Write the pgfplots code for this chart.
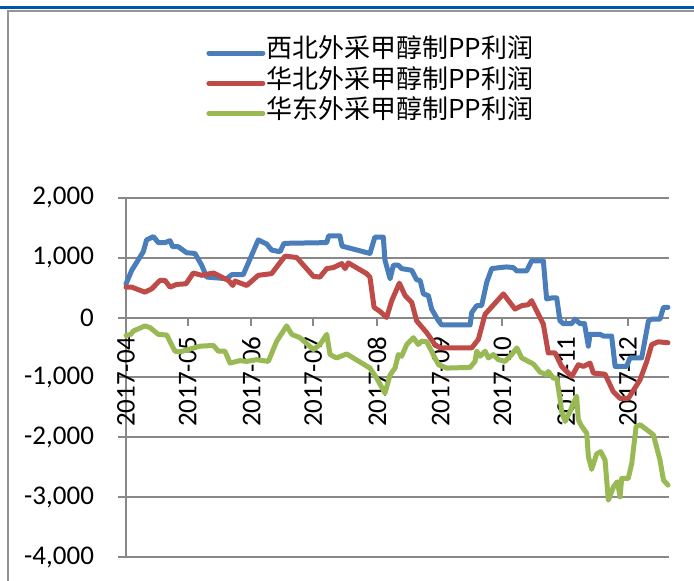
\documentclass[border=0pt]{standalone}
\usepackage{fontspec}
\setmainfont{Carlito}
\newfontfamily\cjk{Noto Sans CJK SC}
\usepackage{pgfplots}
\pgfplotsset{compat=1.18}
\definecolor{sxb}{HTML}{4A7EBB}
\definecolor{shb}{HTML}{BE4B48}
\definecolor{shd}{HTML}{98B954}
\definecolor{gridgray}{HTML}{888888}
\definecolor{topblue}{HTML}{0055A5}
\newcommand{\tickfont}{\fontsize{13.5pt}{15pt}\selectfont}
\newcommand{\legfont}{\fontsize{13pt}{15pt}\selectfont\cjk}

\begin{document}
\begin{tikzpicture}
% page frame: 694 x 581 px at 0.5pt per px
\path[use as bounding box] (0,0) rectangle (347pt,290.5pt);
\draw[topblue,line width=1.5pt] (0,286.75pt) -- (347pt,286.75pt);
\draw[gridgray!90,line width=1pt] (347pt,284.75pt) -- (4.15pt,284.75pt) -- (4.15pt,0);

\begin{axis}[
    at={(63pt,11.75pt)}, anchor=south west,
    scale only axis,
    width=271.5pt, height=180pt,
    xmin=0, xmax=264,
    ymin=-4000, ymax=2000,
    clip=false,
    axis x line=middle,
    axis y line=left,
    hide obscured x ticks=false,
    axis line style={gridgray,line width=1pt,-},
    ymajorgrids,
    grid style={gridgray,line width=1pt},
    tick align=outside,
    major tick length=4pt,
    tick style={gridgray,line width=1pt},
    ytick={-4000,-3000,-2000,-1000,0,1000,2000},
    xtick={0,30,61,91,122,153,183,214,244},
    xticklabels={2017-04,2017-05,2017-06,2017-07,2017-08,2017-09,2017-10,2017-11,2017-12},
    yticklabel style={font=\tickfont,xshift=-8.5pt},
    xticklabel style={font=\tickfont,rotate=90,anchor=east,xshift=-2pt},
    /pgf/number format/.cd, 1000 sep={,}, assume math mode=true,
    /pgfplots/.cd,
    legend cell align=left,
    legend style={at={(axis description cs:0.1473,1.4444)},anchor=north west,
        draw=none,fill=none,inner sep=0pt,row sep=0pt,column sep=0.5pt,
        nodes={inner sep=0pt,text height=10pt,text depth=5.15pt,font=\legfont}},
    legend image code/.code={\draw[#1,line cap=round] (0pt,0pt) -- (27pt,0pt);},
    every axis plot/.append style={line width=2.5pt,line join=round,line cap=round},
]
\addplot[sxb] coordinates {
(0,560) (2.8,787) (8.4,1096) (10,1293) (13.3,1349) (15.7,1248) (19,1248) (21.4,1281)
(22.7,1180) (25.4,1180) (29.5,1079) (33.5,1068) (36.8,871) (39.2,674) (49,646) (51.4,714)
(57,714) (64.3,1293) (68.4,1225) (70.8,1124) (74.9,1096) (76.8,1236) (97.6,1248) (98.5,1360)
(104,1360) (105,1190) (118.6,1068) (121,1340) (125.1,1340) (125.9,955) (128.4,646) (130,871)
(132.4,871) (134,815) (138.9,787) (141.3,629) (143,618) (144.6,393) (147,365) (148.6,140)
(151.9,-56) (153.5,-124) (167.3,-124) (168.1,84) (170.5,197) (172.9,197) (175.4,590) (177.8,815)
(181.8,832) (185,843) (188.3,832) (190,776) (194.8,776) (197.2,944) (202.9,944) (204.5,309)
(207,326) (209.4,326) (211,-56) (212.6,-101) (216.7,-101) (218.3,-28) (220.7,-101) (222.9,-101)
(224.8,-478) (225.6,-281) (230.5,-281) (232.1,-309) (236.1,-309) (237.8,-815) (243.4,-815) (245,-674)
(250.7,-674) (254,-56) (255.6,-28) (259.6,-28) (261.3,169) (263.5,169)
};
\addlegendentry{西北外采甲醇制PP利润}
\addplot[shb] coordinates {
(0,506) (2.8,506) (9.2,422) (12.5,478) (16.5,618) (19,618) (21.4,506) (24.6,551)
(29.2,562) (32.7,742) (36.8,703) (42.5,742) (49.8,618) (51.9,534) (53,607) (58.7,534)
(64.3,703) (70.8,731) (77.3,1023) (83,1000) (91.1,686) (94.3,674) (97.6,815) (100.8,832)
(104.9,899) (106.5,815) (108.1,910) (117,731) (118.6,674) (120.6,169) (123.5,101) (126.7,0)
(129.2,281) (132.9,573) (135.7,365) (138.9,253) (141.3,-56) (146.2,-253) (150.2,-450) (152.7,-506)
(168.1,-506) (171.3,-365) (174.6,56) (183.5,393) (189.1,140) (192.4,197) (195.6,214) (197.2,281)
(202.9,-112) (205.3,-590) (208.6,-590) (211.8,-815) (216.7,-983) (219.9,-787) (222.4,-815) (225.6,-759)
(227.2,-927) (232.9,-944) (236.9,-1236) (240.2,-1349) (244.2,-1349) (249.9,-1040) (253.2,-731) (255.6,-450)
(258.8,-405) (263.5,-421)
};
\addlegendentry{华北外采甲醇制PP利润}
\addplot[shd] coordinates {
(0,-300) (2.3,-281) (3.6,-225) (9.2,-140) (11.7,-169) (15.7,-281) (19.8,-292) (23.8,-562)
(26.3,-573) (36,-478) (42.5,-466) (44.9,-562) (48.1,-562) (50.6,-759) (55.4,-719) (58.7,-731)
(63.5,-703) (69.2,-731) (73.3,-393) (78.1,-140) (80.6,-281) (84.6,-337) (91.1,-534) (94.3,-450)
(97.6,-281) (99.2,-618) (102.4,-674) (107.3,-607) (118.6,-843) (121.9,-1012) (125.9,-1260) (128.4,-955)
(130.8,-843) (132.4,-618) (134,-646) (136.5,-450) (139.7,-337) (142.1,-450) (143.8,-393) (146.2,-405)
(149.4,-618) (151.9,-787) (155.9,-843) (167.3,-832) (169.7,-731) (170.5,-562) (172.1,-646) (174.6,-562)
(176.2,-674) (178.6,-618) (181,-703) (184.3,-731) (187.5,-618) (190,-506) (192.4,-674) (198.1,-776)
(201.3,-910) (204.5,-955) (205.3,-899) (207.8,-1012) (209.4,-1012) (211,-1349) (211.8,-1564) (213.5,-1732)
(215.9,-1564) (217.5,-1424) (219.1,-1312) (219.9,-1704) (221.6,-1816) (224,-1927) (224.8,-2319) (226.4,-2531)
(228.8,-2274) (230.8,-2235) (232.9,-2375) (234.5,-3045) (237,-2822) (238.9,-2738) (240.2,-2989) (241,-2682)
(244.2,-2682) (245.9,-2430) (248,-1816) (250,-1788) (253.2,-1871) (256.4,-1955) (259.6,-2375) (261.3,-2710)
(263.5,-2794)
};
\addlegendentry{华东外采甲醇制PP利润}
\end{axis}
\end{tikzpicture}
\end{document}
